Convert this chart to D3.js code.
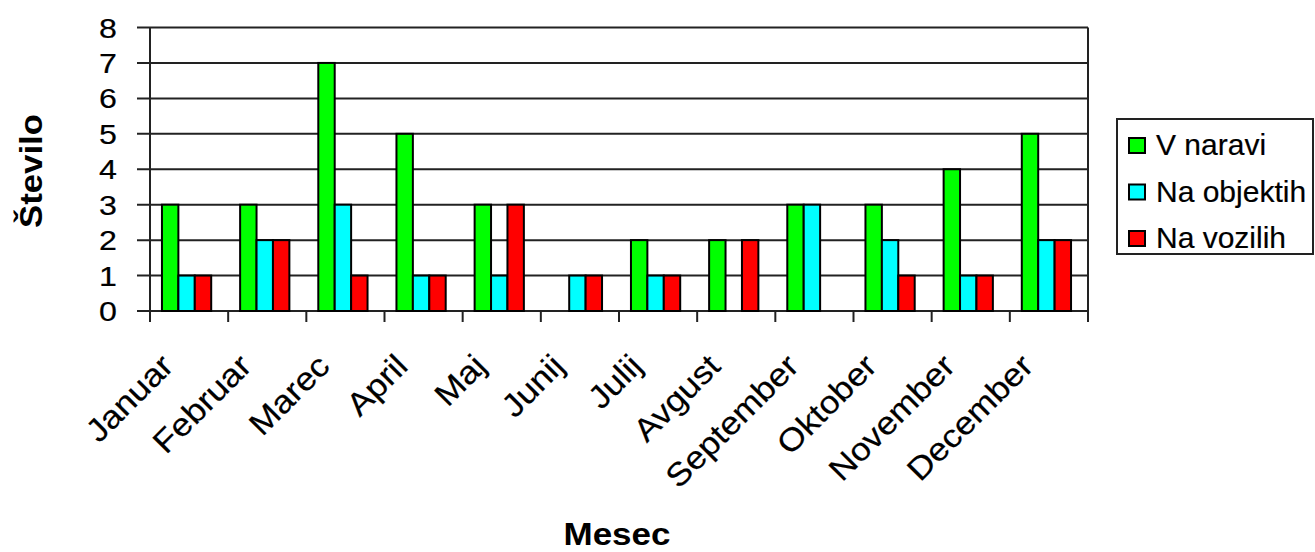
<!DOCTYPE html>
<html>
<head>
<meta charset="utf-8">
<script src="https://cdn.jsdelivr.net/npm/d3@7"></script>
<style>
  html, body { margin: 0; padding: 0; background: #fff; }
  svg { display: block; font-family: "Liberation Sans", Arial, sans-serif; }
  .lbl { fill: #000; stroke: #000; stroke-width: 0.2px; }
</style>
</head>
<body>
<svg id="chart" width="1315" height="552"></svg>
<script>
const months = ["Januar","Februar","Marec","April","Maj","Junij","Julij","Avgust","September","Oktober","November","December"];
const seriesNames = ["V naravi","Na objektih","Na vozilih"];
const vNaravi    = [3,3,7,5,3,0,2,2,3,3,4,5];
const naObjektih = [1,2,3,1,1,1,1,0,3,2,1,2];
const naVozilih  = [1,2,1,1,3,1,1,2,0,1,1,2];
const colors = ["#00ff00","#00ffff","#ff0000"];
const yTicks = [0,1,2,3,4,5,6,7,8];

const seriesValues = [vNaravi, naObjektih, naVozilih];

const svg = d3.select("#chart");
const L = 150, R = 1088, T = 27.5, B = 311;

const x0 = d3.scaleBand().domain(months).range([L, R]).padding(0);
const bw = x0.bandwidth();
const x1 = d3.scaleBand().domain(seriesNames).range([bw*0.153, bw*0.783]).padding(0);
const y = d3.scaleLinear().domain([0, 8]).range([B, T]);

// gridlines
svg.append("g").selectAll("line").data(yTicks).join("line")
  .attr("x1", L - 13).attr("x2", R)
  .attr("y1", d => y(d)).attr("y2", d => y(d))
  .attr("stroke", "#222").attr("stroke-width", 2);

// bars
const groups = svg.append("g").selectAll("g").data(months).join("g")
  .attr("transform", d => `translate(${x0(d)},0)`);
groups.selectAll("rect")
  .data((m, i) => seriesNames.map((s, k) => ({s, k, v: seriesValues[k][i]})).filter(d => d.v > 0))
  .join("rect")
  .attr("x", d => x1(d.s))
  .attr("width", x1.bandwidth())
  .attr("y", d => y(d.v))
  .attr("height", d => y(0) - y(d.v))
  .attr("fill", d => colors[d.k])
  .attr("stroke", "#000").attr("stroke-width", 2);

// axes lines
svg.append("line").attr("x1", L).attr("x2", L).attr("y1", T).attr("y2", B + 11)
  .attr("stroke", "#222").attr("stroke-width", 2);
svg.append("line").attr("x1", R).attr("x2", R).attr("y1", T).attr("y2", B + 11)
  .attr("stroke", "#222").attr("stroke-width", 2);
svg.append("g").selectAll("line").data(d3.range(months.length + 1)).join("line")
  .attr("x1", i => L + i*bw).attr("x2", i => L + i*bw)
  .attr("y1", B).attr("y2", B + 11)
  .attr("stroke", "#222").attr("stroke-width", 2);

// y tick labels
svg.append("g").selectAll("text").data(yTicks).join("text")
  .attr("class", "lbl")
  .attr("transform", d => `translate(117,${y(d)}) scale(1.15,1)`)
  .attr("dy", "0.36em")
  .attr("text-anchor", "end").attr("font-size", 28)
  .text(d => d);

// x tick labels
svg.append("g").selectAll("text").data(months).join("text")
  .attr("class", "lbl")
  .attr("transform", d => `translate(${x0(d) + bw/2 - 14},${B + 57}) rotate(-45) scale(1.1,1)`)
  .attr("text-anchor", "end").attr("font-size", 32)
  .text(d => d);

// axis titles
svg.append("text").attr("transform", "translate(42,171) rotate(-90) scale(1.12,1)")
  .attr("text-anchor", "middle").attr("font-size", 31).attr("font-weight", "bold")
  .text("Število");
svg.append("text").attr("transform", "translate(617,545) scale(1.13,1)")
  .attr("text-anchor", "middle").attr("font-size", 31).attr("font-weight", "bold")
  .text("Mesec");

// legend
const lg = svg.append("g");
lg.append("rect").attr("x", 1117).attr("y", 119).attr("width", 196).attr("height", 135)
  .attr("fill", "#fff").attr("stroke", "#222").attr("stroke-width", 2);
const items = lg.selectAll("g").data(seriesNames).join("g")
  .attr("transform", (d, i) => `translate(0,${i*46.5})`);
items.append("rect").attr("x", 1129).attr("y", 138).attr("width", 16).attr("height", 15)
  .attr("fill", (d, i) => colors[i]).attr("stroke", "#000").attr("stroke-width", 2);
items.append("text").attr("class", "lbl").attr("x", 1156).attr("y", 155).attr("font-size", 30).text(d => d);
</script>
</body>
</html>
